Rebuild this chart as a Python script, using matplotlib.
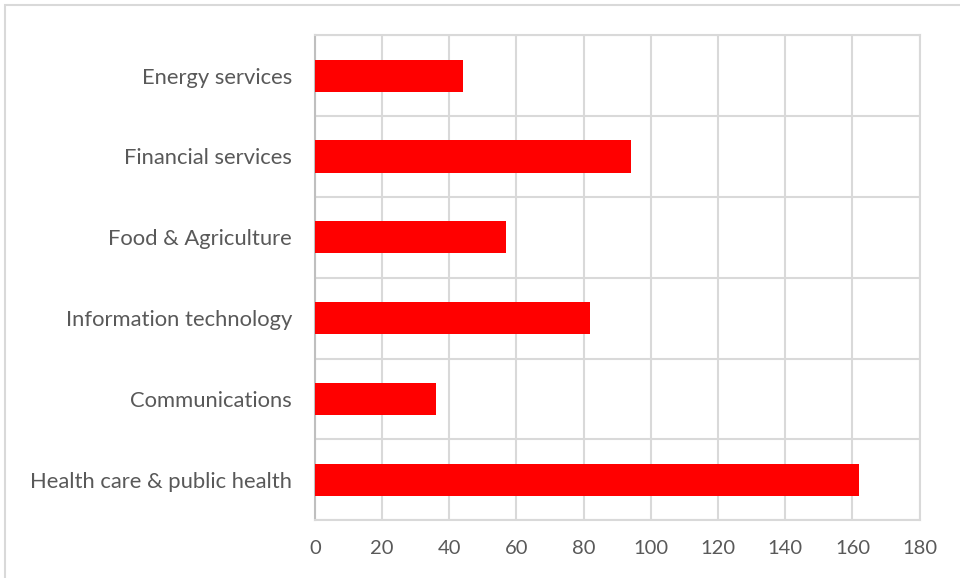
import matplotlib
matplotlib.use("Agg")
import matplotlib.pyplot as plt
from matplotlib.patches import Rectangle
import numpy as np

categories = ["Health care & public health", "Communications", "Information technology",
              "Food & Agriculture", "Financial services", "Energy services"]
values = [162, 36, 82, 57, 94, 44]
xticks = [0, 20, 40, 60, 80, 100, 120, 140, 160, 180]

plt.rcParams['font.family'] = ['Lato', 'DejaVu Sans']
fig = plt.figure(figsize=(9.6, 5.78), dpi=100)
ax = fig.add_axes([0.328, 0.100, 0.630, 0.839])

y = np.arange(len(categories))
ax.barh(y, values, height=0.4, color='#ff0000', zorder=3)
ax.set_xlim(0, 180)
ax.set_ylim(-0.5, len(categories) - 0.5)
ax.set_xticks(xticks)
ax.set_xticklabels([str(t) for t in xticks])
ax.set_yticks(y)
ax.set_yticklabels(categories)
ax.set_yticks(np.arange(-0.5, len(categories), 1), minor=True)
ax.grid(axis='x', which='major', color='#d9d9d9', linewidth=1.5, zorder=0)
ax.grid(axis='y', which='minor', color='#d9d9d9', linewidth=1.5, zorder=0)
ax.tick_params(axis='both', which='both', length=0, labelcolor='#595959')
ax.tick_params(axis='y', pad=16.5, labelsize=15.8)
ax.tick_params(axis='x', pad=14, labelsize=14.5)
for s in ax.spines.values():
    s.set_color('#d9d9d9')
    s.set_linewidth(1.5)
ax.spines['left'].set_color('#bfbfbf')

fig.patches.append(Rectangle((5/960, -0.1), 1.2, 1 - 5/578 + 0.1, transform=fig.transFigure,
                             fill=False, edgecolor='#d9d9d9', linewidth=1.5))
fig.savefig('out.png', dpi=100)
